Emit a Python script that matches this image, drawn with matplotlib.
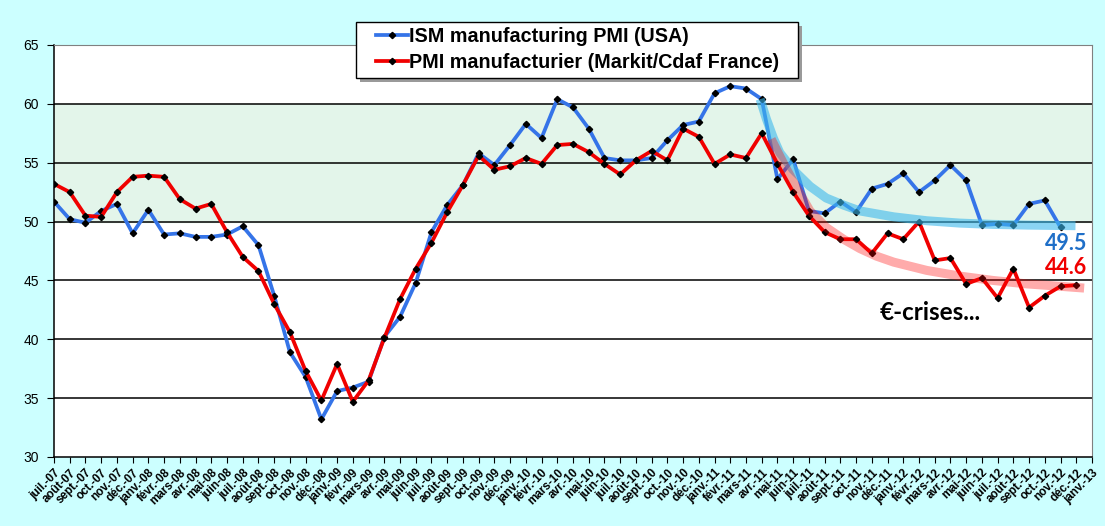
import matplotlib
matplotlib.use("Agg")
import matplotlib.pyplot as plt
from matplotlib.patches import Rectangle

# month labels, juil.-07 .. janv.-13
months = ["juil.", "août", "sept.", "oct.", "nov.", "déc.",
          "janv.", "févr.", "mars", "avr.", "mai", "juin"]
labels = []
for i in range(67):
    yy = 7 + (6 + i) // 12
    labels.append("%s-%02d" % (months[i % 12], yy))

ism = [51.7, 50.2, 49.9, 50.9, 51.5, 49.0, 51.0, 48.9, 49.0, 48.7, 48.7, 48.9,
       49.6, 48.0, 43.7, 38.9, 36.8, 33.2, 35.6, 35.9, 36.4, 40.2, 41.9, 44.8,
       49.1, 51.4, 53.1, 55.8, 54.8, 56.5, 58.3, 57.1, 60.4, 59.7, 57.9, 55.4,
       55.2, 55.2, 55.4, 56.9, 58.2, 58.5, 60.9, 61.5, 61.3, 60.4, 53.6, 55.3,
       50.9, 50.7, 51.7, 50.8, 52.8, 53.2, 54.1, 52.5, 53.5, 54.8, 53.5, 49.7,
       49.8, 49.7, 51.5, 51.8, 49.5]

france = [53.2, 52.5, 50.5, 50.4, 52.5, 53.8, 53.9, 53.8, 51.9, 51.1, 51.5, 49.1,
          47.0, 45.8, 43.0, 40.6, 37.3, 34.8, 37.9, 34.7, 36.5, 40.1, 43.4, 46.0,
          48.2, 50.8, 53.1, 55.6, 54.4, 54.7, 55.4, 54.9, 56.5, 56.6, 55.9, 54.9,
          54.0, 55.2, 56.0, 55.2, 57.9, 57.2, 54.9, 55.7, 55.4, 57.5, 54.9, 52.5,
          50.5, 49.1, 48.5, 48.5, 47.3, 49.0, 48.5, 50.0, 46.7, 46.9, 44.7, 45.2,
          43.5, 46.0, 42.7, 43.7, 44.5, 44.6]

# hand-drawn trend curves
trend_us_x = [44.9, 45.3, 45.74, 46.15, 47.0, 48.07, 49.1, 50.2, 51.25, 53.4,
              55.5, 57.6, 59.7, 61.9, 64.95]
trend_us_y = [60.4, 58.7, 57.1, 55.85, 54.4, 53.0, 52.0, 51.4, 50.9, 50.4,
              50.07, 49.87, 49.76, 49.7, 49.65]
trend_fr_x = [45.6, 46.4, 47.2, 48.07, 49.1, 50.2, 51.25, 52.3, 53.4, 55.5,
              57.6, 59.7, 61.9, 64.0, 65.5]
trend_fr_y = [57.0, 54.9, 52.9, 50.9, 49.5, 48.5, 47.7, 47.06, 46.55, 45.85,
              45.37, 45.0, 44.7, 44.5, 44.35]

plt.rcParams['font.family'] = ['Liberation Sans', 'DejaVu Sans']

W, H = 1105, 526
fig = plt.figure(figsize=(W / 100, H / 100), dpi=100)
fig.patch.set_facecolor('#CCFFFF')
ax = fig.add_axes([54 / W, 1 - 457 / H, (1092 - 54) / W, (457 - 45) / H])
ax.set_facecolor('white')

ax.axhspan(50, 60, color='#E3F5EA', zorder=0)
for g in [35, 40, 45, 50, 55, 60]:
    ax.axhline(g, color='black', lw=1.1, zorder=1)

xi = list(range(len(ism)))
xf = list(range(len(france)))
l1, = ax.plot(xi, ism, color='#3574E8', lw=2.7, marker='D', ms=3.2,
              mfc='black', mec='black', zorder=3, solid_joinstyle='round',
              label='ISM manufacturing PMI (USA)')
l2, = ax.plot(xf, france, color='#F00000', lw=2.7, marker='D', ms=3.2,
              mfc='black', mec='black', zorder=3, solid_joinstyle='round',
              label='PMI manufacturier (Markit/Cdaf France)')

ax.plot(trend_us_x, trend_us_y, color='#3CB8EC', alpha=0.6, lw=6.5,
        solid_capstyle='butt', solid_joinstyle='round', zorder=4)
ax.plot(trend_fr_x, trend_fr_y, color='#FF0000', alpha=0.33, lw=6.5,
        solid_capstyle='butt', solid_joinstyle='round', zorder=4)

ax.set_xlim(0, 66)
ax.set_ylim(30, 65)
ax.set_yticks([30, 35, 40, 45, 50, 55, 60, 65])
ax.set_xticks(range(67))
ax.set_xticklabels(labels, rotation=45, ha='right', va='top',
                   rotation_mode='anchor', fontsize=8.4, fontweight='bold')
ax.tick_params(axis='y', labelsize=10, length=5, pad=6)
ax.tick_params(axis='x', length=4, pad=3)

for s in ['top', 'right']:
    ax.spines[s].set_color('#808080')
for s in ['left', 'bottom']:
    ax.spines[s].set_color('black')
    ax.spines[s].set_linewidth(1.1)

ax.text(64.36, 48.1, '49.5', color='#1F6FC8', fontsize=15.5, fontweight='bold',
        family='Lato', ha='center', va='center', zorder=5)
ax.text(64.36, 46.1, '44.6', color='#F00000', fontsize=15.5, fontweight='bold',
        family='Lato', ha='center', va='center', zorder=5)
ax.text(55.7, 42.3, '€-crises...', color='black', fontsize=17.5, fontweight='bold',
        family='Lato', ha='center', va='center', zorder=5)

# legend box with drop shadow, drawn by hand (pixels from top-left)
bx0, by0, bx1, by1 = 356, 22, 798, 78
shadow = Rectangle(((bx0 + 4) / W, 1 - (by1 + 4) / H), (bx1 - bx0) / W,
                   (by1 - by0) / H, transform=fig.transFigure,
                   facecolor='#9A9A9A', edgecolor='none', zorder=8)
frame = Rectangle((bx0 / W, 1 - by1 / H), (bx1 - bx0) / W, (by1 - by0) / H,
                  transform=fig.transFigure, facecolor='white',
                  edgecolor='black', lw=1.0, zorder=9)
fig.patches.extend([shadow, frame])

leg = fig.legend(handles=[l1, l2], loc='upper left',
                 bbox_to_anchor=(372 / W, 1 - 23 / H),
                 borderaxespad=0, prop={'weight': 'bold', 'size': 14.2},
                 frameon=False, handlelength=1.6, handletextpad=0.1,
                 labelspacing=0.35, borderpad=0.2)
leg.set_zorder(10)

fig.savefig('out.png', dpi=100, facecolor=fig.get_facecolor())
